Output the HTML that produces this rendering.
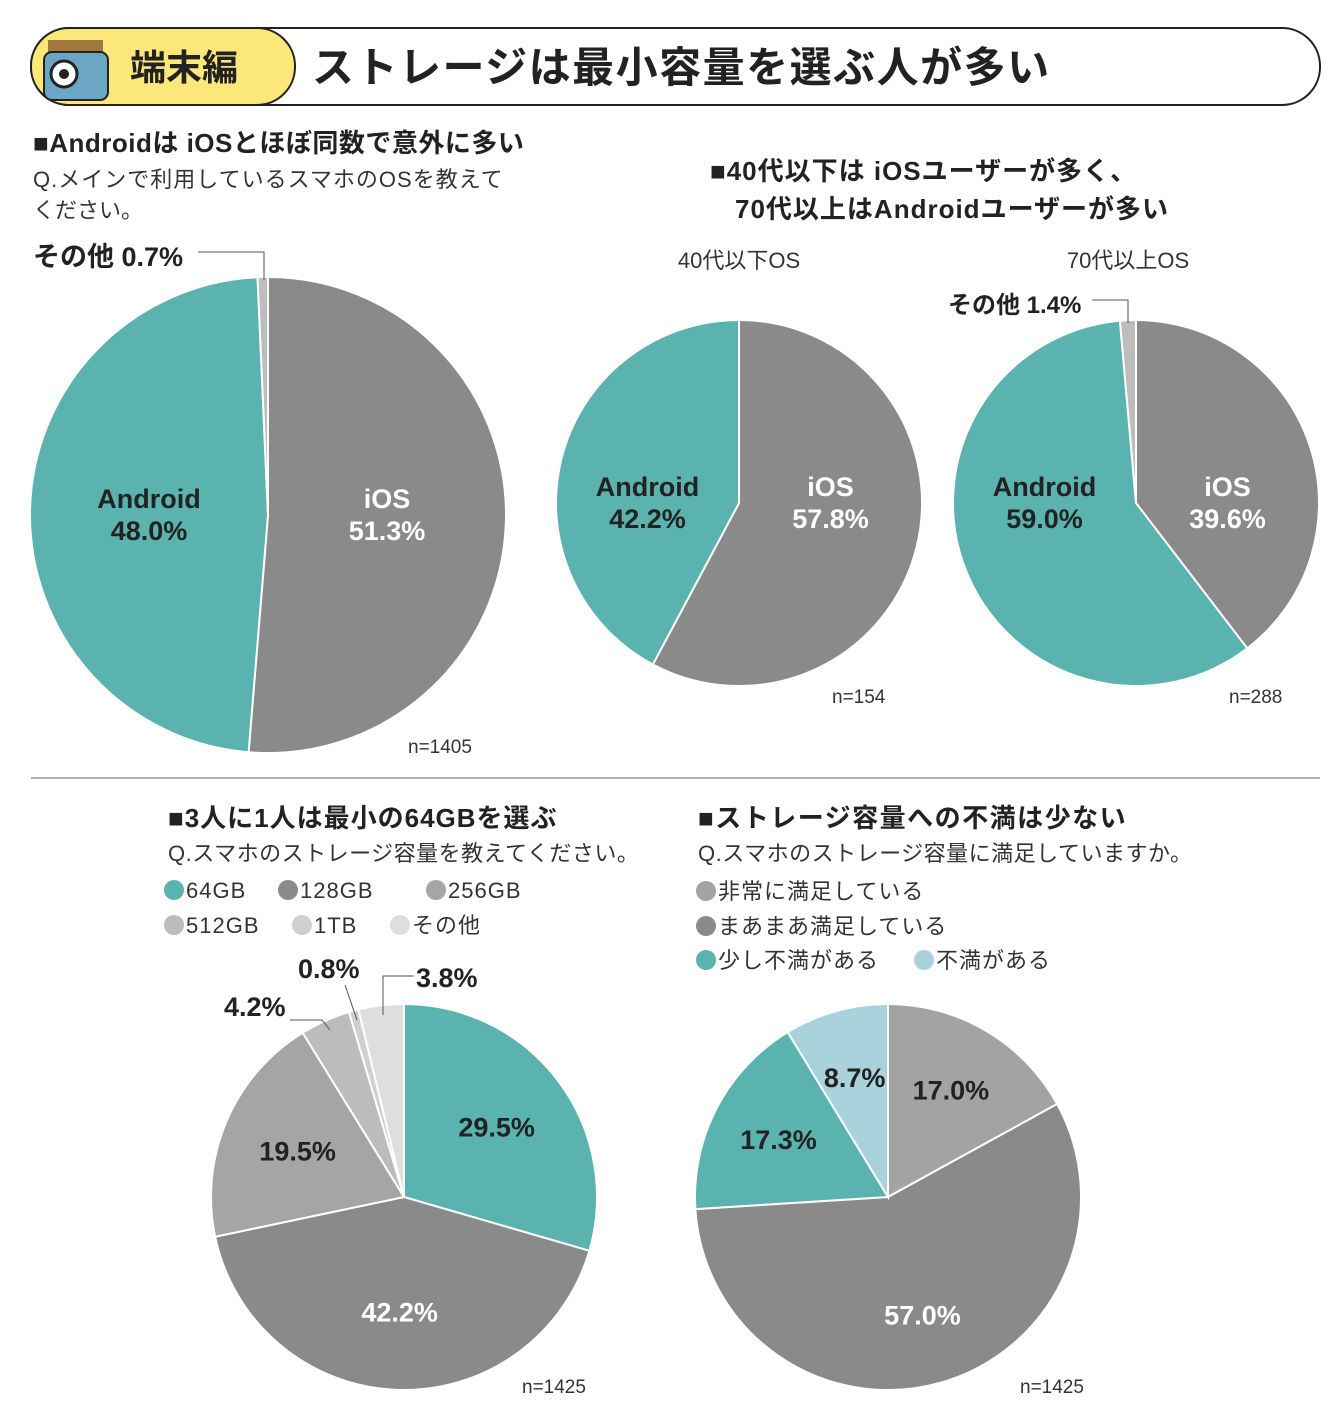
<!DOCTYPE html>
<html><head><meta charset="utf-8">
<style>
body{margin:0;background:#fff;}
svg{display:block;font-family:"Liberation Sans","Noto Sans CJK JP",sans-serif;}
.h{font-weight:bold;fill:#222;}
.s{fill:#333;}
.lbl{font-weight:bold;font-size:27px;text-anchor:middle;}
.n{font-size:19px;fill:#333;}
</style></head>
<body>
<svg id="c" width="1340" height="1420" viewBox="0 0 1340 1420">
<g>
<rect x="31" y="28" width="1289" height="77" rx="38" fill="#fff" stroke="#222" stroke-width="2"/>
<rect x="31" y="28" width="264" height="77" rx="38" fill="#fbe77a" stroke="#222" stroke-width="2"/>
<g>
<rect x="48" y="40" width="55" height="16" fill="#a07840"/>
<rect x="44" y="52" width="64" height="48" rx="8" fill="#6ba7c4" stroke="#222" stroke-width="2"/>
<circle cx="64" cy="74" r="13" fill="#fff" stroke="#222" stroke-width="3"/>
<circle cx="64" cy="74" r="5" fill="#222"/>
</g>
<text x="130" y="80" class="h" font-size="36">端末編</text>
<text x="312" y="82" class="h" font-size="42" letter-spacing="1.5">ストレージは最小容量を選ぶ人が多い</text>
</g>
<text x="33" y="152" class="h" font-size="26" letter-spacing="0.5">■Androidは iOSとほぼ同数で意外に多い</text>
<text x="33" y="187" class="s" font-size="22" letter-spacing="1">Q.メインで利用しているスマホのOSを教えて</text>
<text x="33" y="218" class="s" font-size="22">ください。</text>
<text x="710" y="180" class="h" font-size="26" letter-spacing="1">■40代以下は iOSユーザーが多く、</text>
<text x="735" y="218" class="h" font-size="26" letter-spacing="1">70代以上はAndroidユーザーが多い</text>
<text x="739" y="268" class="s" font-size="22" text-anchor="middle">40代以下OS</text>
<text x="1128" y="268" class="s" font-size="22" text-anchor="middle">70代以上OS</text>
<line x1="31" y1="778" x2="1320" y2="778" stroke="#999" stroke-width="1.5"/>
<text x="168" y="827" class="h" font-size="26" letter-spacing="1">■3人に1人は最小の64GBを選ぶ</text>
<text x="168" y="861" class="s" font-size="22" letter-spacing="0.5">Q.スマホのストレージ容量を教えてください。</text>
<text x="698" y="827" class="h" font-size="26" letter-spacing="1.5">■ストレージ容量への不満は少ない</text>
<text x="698" y="861" class="s" font-size="22" letter-spacing="0.5">Q.スマホのストレージ容量に満足していますか。</text>
<g id="legends"></g>
<g id="pies"></g>
<g font-weight="bold" fill="#222">
<text x="33" y="266" font-size="27">その他 0.7%</text>
<polyline points="198,252 264,252 264,280" fill="none" stroke="#555"/>
<text x="948" y="313" font-size="24">その他 1.4%</text>
<polyline points="1092,300 1128,300 1128,323" fill="none" stroke="#555"/>
<text x="224" y="1016" font-size="27">4.2%</text>
<polyline points="290,1020 322,1020 330,1030" fill="none" stroke="#555"/>
<text x="298" y="978" font-size="27">0.8%</text>
<polyline points="345,985 357,1020" fill="none" stroke="#555"/>
<text x="416" y="987" font-size="27">3.8%</text>
<polyline points="414,976 383,976 383,1015" fill="none" stroke="#555"/>
</g>
<text x="408" y="753" class="n">n=1405</text>
<text x="832" y="703" class="n">n=154</text>
<text x="1229" y="703" class="n">n=288</text>
<text x="522" y="1393" class="n">n=1425</text>
<text x="1020" y="1393" class="n">n=1425</text>
</svg>
<script>
const pie1Cats=["iOS","Android","その他"];
const pie1Vals=[51.3,48.0,0.7];
const pie2Cats=["iOS","Android"];
const pie2Vals=[57.8,42.2];
const pie3Cats=["iOS","Android","その他"];
const pie3Vals=[39.6,59.0,1.4];
const pie4Cats=["64GB","128GB","256GB","512GB","1TB","その他"];
const pie4Vals=[29.5,42.2,19.5,4.2,0.8,3.8];
const pie5Cats=["非常に満足している","まあまあ満足している","少し不満がある","不満がある"];
const pie5Vals=[17.0,57.0,17.3,8.7];

const NS="http://www.w3.org/2000/svg";
const TEAL="#5bb3b0",DG="#8a8a8a";
function mk(t,a,p){const e=document.createElementNS(NS,t);for(const k in a)e.setAttribute(k,a[k]);p.appendChild(e);return e;}
function pt(cx,cy,r,f){const a=f*2*Math.PI;return [cx+r*Math.sin(a),cy-r*Math.cos(a)];}
// mode "side": labels horizontally at cy, left/right of center; mode "radial": at mid-angle
function drawPie(id,cats,vals,cx,cy,r,colors,labelShow,lf,textFill,labelFn,fs,mode){
  const g=mk("g",{},document.getElementById("pies"));
  
  
  const tot=vals.reduce((a,b)=>a+b,0);let acc=0;
  vals.forEach((v,i)=>{
    const f0=acc/tot,f1=(acc+v)/tot;acc+=v;
    const [x0,y0]=pt(cx,cy,r,f0),[x1,y1]=pt(cx,cy,r,f1);
    const large=(f1-f0)>0.5?1:0;
    const p=mk("path",{d:`M${cx},${cy}L${x0},${y0}A${r},${r} 0 ${large} 1 ${x1},${y1}Z`,fill:colors[i],stroke:"#fff","stroke-width":2},g);
    
    
    if(labelShow[i]){
      let lx,ly;
      const [mx,my]=pt(cx,cy,r*lf,(f0+f1)/2);
      if(mode==="side"){lx=cx+Math.sign(mx-cx)*r*lf;ly=cy;}else{lx=mx;ly=my;}
      const lines=labelFn(cats[i],v);
      const t=mk("text",{x:lx,y:ly-(lines.length-1)*16+9,class:"lbl",fill:textFill[i],"font-size":fs},g);
      
      
      lines.forEach((s,k)=>{const ts=mk("tspan",{x:lx,dy:k?32:0},t);ts.textContent=s;});
    }
  });
}
const catLbl=(c,v)=>[c,v.toFixed(1)+"%"];
const valLbl=(c,v)=>[v.toFixed(1)+"%"];
drawPie("pie1-os",pie1Cats,pie1Vals,268,515,238,[DG,TEAL,"#bdbdbd"],[1,1,0],0.5,["#fff","#222"],catLbl,29,"side");
drawPie("pie2-os-under40",pie2Cats,pie2Vals,739,503,183,[DG,TEAL],[1,1],0.5,["#fff","#222"],catLbl,26,"side");
drawPie("pie3-os-over70",pie3Cats,pie3Vals,1136,503,183,[DG,TEAL,"#bdbdbd"],[1,1,0],0.5,["#fff","#222"],catLbl,26,"side");
const c4=[TEAL,DG,"#a5a5a5","#bcbcbc","#cfcfcf","#dedede"];
drawPie("pie4-storage",pie4Cats,pie4Vals,404,1197,193,c4,[1,1,1,0,0,0],0.6,["#222","#fff","#222"],valLbl,27,"radial");
const c5=["#a3a3a3",DG,TEAL,"#a9d2dc"];
drawPie("pie5-satisfaction",pie5Cats,pie5Vals,888,1197,193,c5,[1,1,1,1],0.64,["#222","#fff","#222","#222"],valLbl,27,"radial");

const lg=document.getElementById("legends");
function legend(x,y,col,txt,name){
  const g=mk("g",{},lg);
  
  
  mk("circle",{cx:x+10,cy:y-8,r:10,fill:col},g);
  const t=mk("text",{x:x+22,y:y,"font-size":22,fill:"#333","letter-spacing":1},g);t.textContent=txt;
}
const l4pos=[[164,898],[278,898],[426,898],[164,933],[292,933],[390,933]];
pie4Cats.forEach((c,i)=>legend(l4pos[i][0],l4pos[i][1],c4[i],c,'legend-entry-storage-'+i));
const l5pos=[[696,899],[696,934],[696,968],[914,968]];
pie5Cats.forEach((c,i)=>legend(l5pos[i][0],l5pos[i][1],c5[i],c,'legend-entry-satisfaction-'+i));
</script>
</body></html>
